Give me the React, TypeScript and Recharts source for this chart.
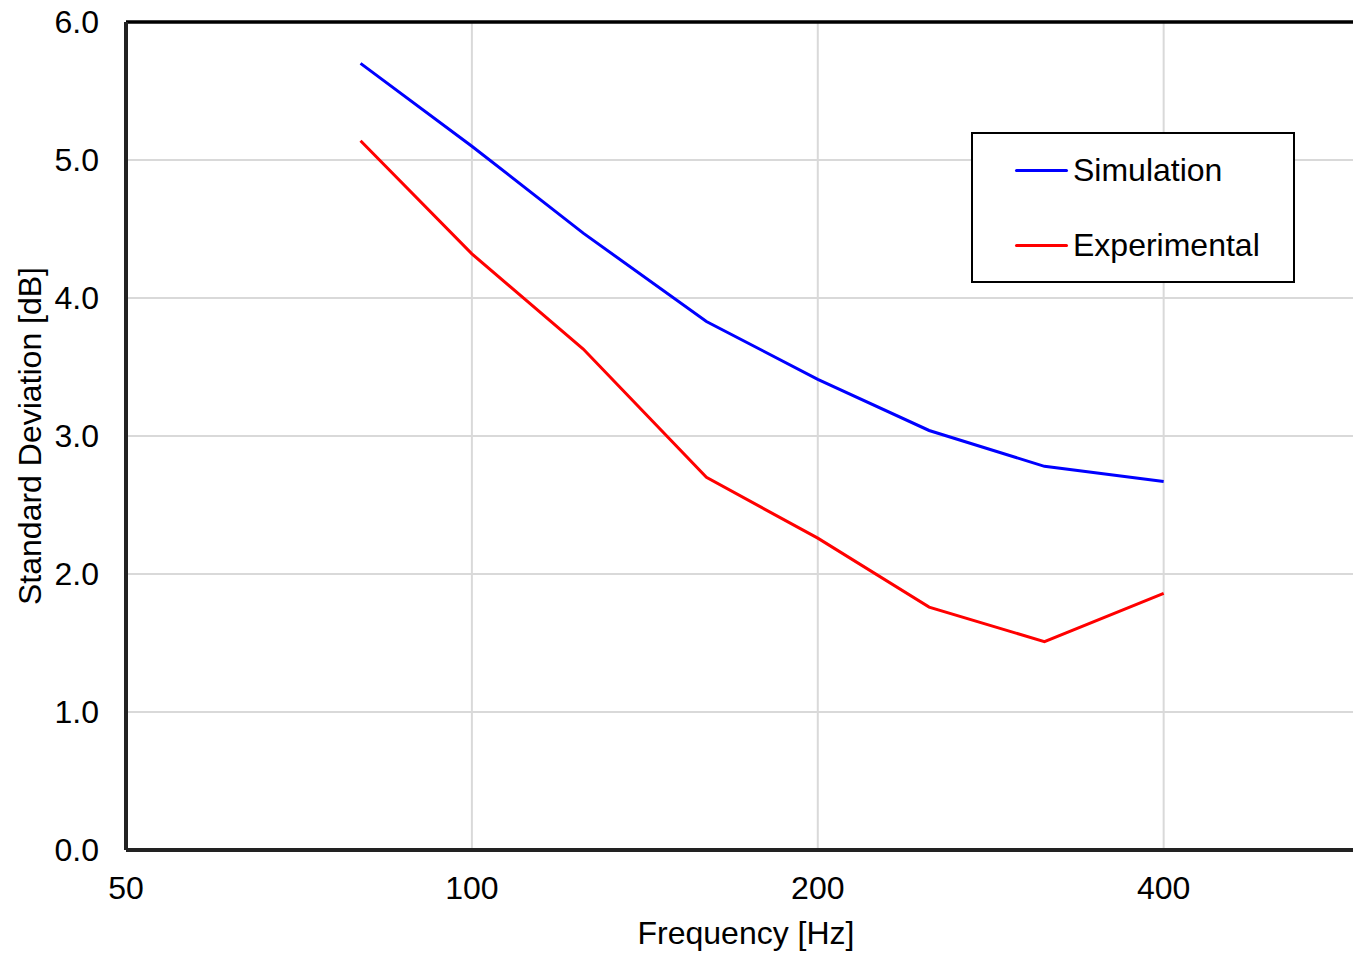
import React from "react";
import {
  LineChart,
  Line,
  XAxis,
  YAxis,
  CartesianGrid,
  ReferenceLine,
} from "recharts";

const freqs = [80, 100, 125, 160, 200, 250, 315, 400];
const simulation = [5.7, 5.1, 4.47, 3.83, 3.41, 3.04, 2.78, 2.67];
const experimental = [5.14, 4.32, 3.63, 2.7, 2.26, 1.76, 1.51, 1.86];
const xTicks = [50, 100, 200, 400];
const yTicks = [0, 1, 2, 3, 4, 5, 6];

const data = freqs.map((f, i) => ({
  f,
  simulation: simulation[i],
  experimental: experimental[i],
}));

const font = "'Liberation Sans', Arial, sans-serif";
const fs = 32;

const series = [
  { key: "simulation", name: "Simulation", color: "#0000ff" },
  { key: "experimental", name: "Experimental", color: "#ff0000" },
];

function LegendBox() {
  return (
    <div
      style={{
        position: "absolute",
        left: 971,
        top: 132,
        width: 320,
        height: 147,
        border: "2px solid #000",
        background: "#fff",
        fontFamily: font,
        fontSize: fs,
        color: "#000",
      }}
    >
      {series.map((s, i) => (
        <div
          key={s.key}
          style={{
            position: "absolute",
            left: 42,
            top: i === 0 ? 17 : 92,
            height: 38,
            display: "flex",
            alignItems: "center",
          }}
        >
          <div style={{ width: 53, height: 3, background: s.color, borderRadius: 2 }} />
          <span style={{ marginLeft: 5 }}>{s.name}</span>
        </div>
      ))}
    </div>
  );
}

export default function App() {
  return (
    <div
      style={{
        position: "absolute",
        left: 0,
        top: 0,
        width: 1353,
        height: 954,
        overflow: "hidden",
        background: "#fff",
      }}
    >
      <LineChart
        width={1366}
        height={954}
        data={data}
        margin={{ top: 22, right: 0, bottom: 0, left: 0 }}
      >
        <CartesianGrid stroke="#d9d9d9" strokeWidth={2} />
        <XAxis
          dataKey="f"
          type="number"
          scale="log"
          domain={[50, 600]}
          ticks={xTicks}
          allowDataOverflow
          height={104}
          axisLine={{ stroke: "#222", strokeWidth: 4 }}
          tickLine={false}
          tickSize={0}
          tickMargin={26}
          tick={{ fill: "#000", fontSize: fs, fontFamily: font }}
          label={{
            value: "Frequency [Hz]",
            position: "insideBottom",
            offset: 10,
            fill: "#000",
            fontSize: fs,
            fontFamily: font,
          }}
        />
        <YAxis
          type="number"
          domain={[0, 6]}
          ticks={yTicks}
          width={126}
          axisLine={{ stroke: "#222", strokeWidth: 4 }}
          tickLine={false}
          tickSize={0}
          tickMargin={27}
          tickFormatter={(v: number) => v.toFixed(1)}
          tick={{ fill: "#000", fontSize: fs, fontFamily: font }}
          label={{
            content: (props: any) => {
              const vb = props.viewBox;
              const cx = vb.x + 30;
              const cy = vb.y + vb.height / 2;
              return (
                <text
                  x={cx}
                  y={cy}
                  transform={`rotate(-90 ${cx} ${cy})`}
                  textAnchor="middle"
                  dominantBaseline="central"
                  fill="#000"
                  fontSize={fs}
                  fontFamily={font}
                >
                  Standard Deviation [dB]
                </text>
              );
            },
          }}
        />
        <ReferenceLine x={50} stroke="#bbb" strokeWidth={2} ifOverflow="visible" />
        <ReferenceLine y={0} stroke="#bbb" strokeWidth={2} ifOverflow="visible" />
        <ReferenceLine y={6} stroke="#000" strokeWidth={3.5} ifOverflow="visible" />
        {series.map((s) => (
          <Line
            key={s.key}
            type="linear"
            dataKey={s.key}
            name={s.name}
            stroke={s.color}
            strokeWidth={3}
            dot={false}
            activeDot={false}
            isAnimationActive={false}
          />
        ))}
      </LineChart>
      <LegendBox />
    </div>
  );
}
